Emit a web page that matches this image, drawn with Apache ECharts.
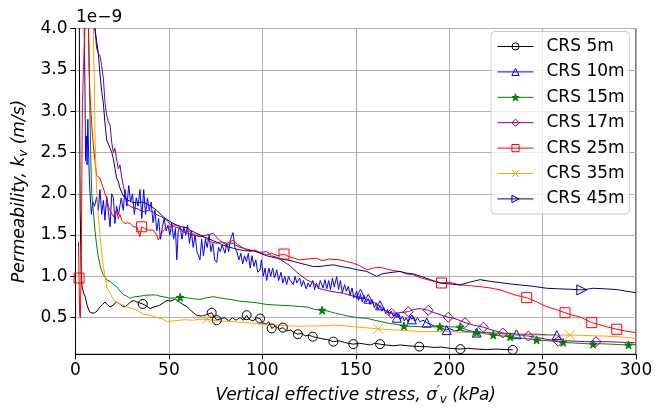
<!DOCTYPE html>
<html><head><meta charset="utf-8">
<script src="https://cdn.jsdelivr.net/npm/echarts@6/dist/echarts.min.js"></script>
<style>html,body{margin:0;padding:0;background:#fff}#c{width:656px;height:408px}</style>
</head><body><div id="c"></div>
<script>
const xTicks = [0, 50, 100, 150, 200, 250, 300];
const yTicks = [0.5, 1.0, 1.5, 2.0, 2.5, 3.0, 3.5, 4.0];
const seriesNames = ['CRS 5m', 'CRS 10m', 'CRS 15m', 'CRS 17m', 'CRS 25m', 'CRS 35m', 'CRS 45m'];

// [vertical effective stress (kPa), permeability (1e-9 m/s)]
const crs5m = [[2.0,4.3],[2.2,3.0],[2.5,1.8],[3.0,1.1],[3.5,0.88],[4.3,0.8],[5.2,0.755],[6.2,0.65],[7.1,0.594],[8.0,0.56],[8.8,0.545],[10,0.555],[11.5,0.58],[13.1,0.63],[14.5,0.66],[15.8,0.69],[17,0.66],[18.5,0.63],[20,0.65],[22,0.69],[23.5,0.67],[25,0.64],[26.5,0.63],[28,0.66],[29.5,0.69],[31,0.71],[33,0.69],[36,0.666],[38,0.64],[40,0.61],[42,0.63],[45,0.65],[47,0.68],[49,0.71],[51,0.70],[53.3,0.727],[55,0.7],[57.5,0.66],[59.9,0.63],[62,0.58],[64.9,0.53],[67,0.52],[69.5,0.53],[72.9,0.56],[74,0.52],[75.6,0.47],[78,0.49],[80,0.5],[82,0.46],[84,0.5],[86,0.47],[88,0.5],[90,0.47],[91.6,0.53],[93,0.48],[95,0.46],[97,0.5],[98.8,0.49],[100,0.44],[102,0.42],[103.5,0.45],[105,0.37],[107,0.4],[109,0.36],[111,0.38],[113,0.34],[115,0.35],[117,0.32],[119,0.30],[121,0.31],[123,0.28],[125,0.29],[127,0.27],[129,0.26],[131,0.25],[133,0.24],[135,0.235],[138,0.21],[141,0.22],[144,0.2],[146,0.19],[148.7,0.18],[152,0.19],[155,0.18],[158,0.17],[160,0.19],[163,0.18],[166,0.17],[170,0.16],[174,0.17],[178,0.16],[184,0.15],[188,0.15],[192,0.14],[196,0.145],[200,0.13],[206,0.12],[210,0.13],[215,0.12],[220,0.115],[225,0.12],[230,0.115],[234,0.11]];
const crs10m = [[4.5,4.3],[5.0,3.4],[5.4,2.4],[5.8,2.7],[6.2,2.35],[6.6,2.9],[7.0,2.5],[7.4,2.2],[7.8,2.0],[8.5,1.75],[9.3,1.9],[10.2,1.85],[11.3,1.96],[12.2,1.8],[13.1,2.05],[14.0,1.75],[14.9,1.92],[15.8,1.68],[16.7,1.97],[17.6,1.78],[18.5,1.6],[19.4,2.0],[20.3,1.95],[21.1,1.64],[22.0,1.85],[23,1.75],[24.5,1.95],[25.6,1.8],[26.5,2.05],[27.5,1.85],[28.5,2.1],[29.5,1.9],[30.5,2.0],[31.5,1.75],[32.5,1.95],[33.5,1.85],[34.5,2.05],[35.5,1.7],[36.5,2.05],[37.5,1.75],[38.5,1.95],[39.5,1.8],[40.5,1.9],[41.5,1.65],[42.5,1.8],[43.5,1.55],[44.5,1.7],[45.5,1.45],[46.5,1.6],[47.5,1.7],[48.5,1.55],[49.5,1.62],[50.5,1.5],[51.5,1.65],[52.5,1.45],[53.5,1.58],[54.2,1.2],[55,1.55],[56,1.6],[57,1.45],[58,1.6],[59,1.5],[60,1.62],[61,1.4],[62,1.55],[63,1.35],[64,1.5],[65,1.3],[66.6,1.2],[67.5,1.45],[68.5,1.25],[69.5,1.45],[70.5,1.35],[71.5,1.5],[72.5,1.3],[73.5,1.4],[74.5,1.2],[75.6,1.17],[76.5,1.35],[77.5,1.3],[78.5,1.38],[80,1.28],[81,1.4],[82,1.3],[83,1.45],[84.3,1.53],[85.3,1.35],[86.3,1.3],[87.5,1.2],[88.5,1.28],[89.5,1.15],[90.5,1.25],[91.5,1.18],[92.5,1.28],[93.5,1.1],[94.5,1.25],[95.5,1.12],[96.5,1.2],[97.5,1.05],[98.8,1.08],[99.5,1.2],[100.5,1.0],[101.5,1.1],[102.3,0.95],[103.5,1.1],[104.5,1.0],[105.5,1.1],[106.5,0.98],[107.7,1.08],[108.7,0.95],[110,1.05],[111,0.92],[112,1.0],[113,0.9],[114,1.0],[115,0.95],[116.6,0.9],[117.5,1.0],[118.5,0.92],[120,0.98],[121,0.88],[122,0.95],[123.5,0.85],[124.5,0.92],[125.5,0.87],[127,0.95],[128,0.84],[129,0.92],[130,0.85],[131,0.95],[132.5,0.86],[133.5,0.96],[134.5,0.85],[135.5,0.95],[136.5,0.84],[137.5,0.98],[138.5,0.87],[139.8,1.0],[140.8,0.84],[141.8,0.95],[142.8,0.8],[144,0.9],[145,0.82],[146,0.88],[147,0.77],[148,0.86],[149,0.74],[150.5,0.82],[151.5,0.71],[152.5,0.79],[153.5,0.69],[154.5,0.77],[155.5,0.69],[156.7,0.73],[157.7,0.66],[158.7,0.72],[160,0.62],[161,0.68],[162,0.6],[163,0.65],[164,0.58],[165,0.62],[166,0.55],[167,0.6],[168,0.53],[169,0.58],[170,0.52],[171,0.55],[172,0.5],[173,0.55],[174,0.48],[175,0.52],[176,0.46],[177,0.5],[178,0.45],[179,0.52],[180,0.48],[181,0.51],[182,0.46],[183,0.5],[184.4,0.45],[186,0.47],[188,0.44],[190,0.42],[192,0.4],[194,0.39],[196,0.37],[198.7,0.35],[200,0.37],[203,0.34],[206,0.35],[210,0.33],[214.7,0.32],[220,0.32],[226,0.31],[232,0.31],[236,0.3],[242,0.3],[248,0.3],[253,0.29],[257.6,0.29]];
const crs15m = [[6.8,4.3],[7.3,3.6],[7.8,2.9],[8.2,2.4],[8.7,2.0],[9.5,1.8],[10.4,1.56],[11.3,1.38],[12.2,1.24],[13.5,1.1],[14.9,1.02],[16.7,0.96],[18.5,0.94],[19.4,0.94],[20.5,0.9],[22,0.875],[24,0.82],[25.6,0.78],[27.4,0.76],[29.2,0.735],[31,0.75],[34.5,0.76],[37,0.77],[39.9,0.775],[43.5,0.775],[45.2,0.76],[48,0.75],[50.6,0.735],[53,0.74],[56,0.747],[60,0.74],[63,0.73],[66.6,0.72],[70,0.74],[73.8,0.755],[77,0.74],[80,0.73],[84.5,0.715],[88,0.7],[93,0.69],[97,0.68],[102.3,0.66],[106,0.655],[110,0.65],[115,0.645],[120,0.635],[124,0.63],[128,0.6],[132,0.59],[135,0.58],[139,0.555],[143.3,0.533],[147,0.515],[151,0.5],[155.9,0.493],[160,0.47],[164,0.45],[168,0.43],[172,0.42],[175.8,0.40],[180,0.395],[184.4,0.39],[190,0.39],[195,0.39],[200,0.39],[205.8,0.385],[210,0.35],[214.7,0.32],[218.3,0.31],[223.6,0.29],[228,0.28],[232.6,0.27],[238,0.255],[242,0.245],[246.8,0.23],[250,0.225],[254,0.22],[258,0.21],[261,0.2],[266,0.195],[270,0.19],[277,0.18],[281,0.185],[286,0.18],[291,0.175],[296,0.17],[300,0.175]];
const crs17m = [[10.0,4.3],[10.4,4.0],[11.3,3.76],[12.2,3.7],[13.1,3.67],[14.0,3.55],[14.9,3.4],[15.8,3.1],[16.7,2.95],[17.6,2.87],[18.5,2.83],[19.4,2.62],[20.3,2.5],[21.1,2.55],[22,2.42],[22.9,2.3],[23.8,2.35],[24.7,2.2],[25.6,2.1],[26.5,2.0],[27.4,1.88],[29.2,1.85],[31,1.83],[33,1.82],[34.5,1.80],[37,1.78],[39,1.8],[41.6,1.78],[44,1.74],[46,1.72],[48.8,1.68],[51,1.62],[53,1.6],[55.5,1.58],[57.7,1.54],[60,1.52],[63,1.5],[66.6,1.48],[70,1.5],[73.8,1.52],[76,1.46],[78,1.42],[80.9,1.38],[83,1.4],[84.5,1.40],[87,1.36],[90,1.34],[93.4,1.32],[96,1.31],[98.8,1.29],[102.3,1.30],[105,1.25],[107.7,1.23],[110,1.2],[112,1.17],[114.8,1.13],[117,1.08],[120,1.02],[123.7,0.96],[127.3,0.92],[130.9,0.85],[134.5,0.83],[139,0.81],[143.3,0.796],[148.7,0.76],[152.3,0.75],[156,0.72],[161.2,0.67],[164,0.62],[166.6,0.575],[169.2,0.553],[173,0.56],[178.1,0.573],[181,0.6],[184.4,0.61],[188.8,0.59],[192,0.56],[196,0.53],[199.5,0.505],[203,0.49],[208.5,0.44],[213,0.41],[218.3,0.385],[223,0.35],[228.7,0.315],[233,0.3],[237,0.29],[242.4,0.278],[247,0.26],[252,0.24],[258.4,0.215],[263,0.22],[268,0.215],[273,0.21],[278.6,0.21],[284,0.21],[290,0.205],[295,0.2],[299.5,0.197]];
const crs25m = [[1.6,1.42],[1.9,0.98],[2.2,0.55],[2.6,0.5],[3.1,1.2],[3.4,2.2],[3.7,3.1],[4.4,3.6],[5.2,4.1],[6.3,4.4],[6.9,4.0],[7.3,3.5],[7.8,3.17],[8.7,2.83],[9.5,2.6],[10.4,2.4],[11.3,2.22],[12.2,2.2],[13.1,2.19],[14,2.12],[14.9,2.07],[15.8,2.0],[16.7,1.95],[17.6,1.85],[18.5,1.8],[19.4,1.78],[20.3,1.72],[21.1,1.70],[22,1.80],[22.9,1.70],[23.8,1.75],[24.7,1.68],[26.5,1.64],[28,1.65],[29.2,1.64],[31,1.6],[32.8,1.6],[34.5,1.48],[35.4,1.60],[37,1.58],[39,1.56],[41.6,1.56],[43.5,1.50],[44.3,1.44],[46,1.52],[48,1.58],[50.6,1.60],[52,1.62],[54.2,1.62],[56,1.58],[58,1.55],[61.3,1.54],[64,1.5],[66.6,1.50],[68.4,1.48],[72,1.42],[75.6,1.40],[78,1.42],[81,1.40],[84.5,1.44],[87,1.38],[90,1.34],[93.4,1.30],[96,1.32],[99,1.28],[102.3,1.26],[105,1.28],[108,1.25],[111.6,1.27],[114,1.24],[117,1.22],[120,1.20],[124,1.21],[129,1.22],[132,1.19],[136,1.21],[141.6,1.20],[145,1.18],[148.7,1.16],[152,1.13],[155.9,1.08],[159.4,1.10],[163,1.11],[166.6,1.09],[170,1.07],[173.7,1.06],[177,1.03],[180.8,1.02],[185,0.98],[190,0.95],[195.9,0.92],[200,0.93],[205,0.9],[210,0.89],[216.5,0.876],[222,0.86],[227.2,0.836],[232,0.8],[236,0.77],[241.5,0.742],[246,0.7],[252.2,0.633],[257,0.6],[262,0.56],[266,0.53],[270,0.51],[276.3,0.44],[280,0.42],[284.3,0.39],[289.7,0.36],[294,0.34],[300,0.32]];
const crs35m = [[9.5,4.3],[9.8,3.6],[10.1,3.42],[10.4,2.75],[10.8,2.4],[11.3,2.05],[12.2,1.75],[13.1,1.5],[14.0,1.3],[14.9,1.12],[16.0,0.98],[16.7,0.87],[18.5,0.8],[19.4,0.755],[20.2,0.72],[22,0.69],[24.5,0.66],[27.4,0.633],[30,0.61],[32.8,0.593],[36.3,0.54],[39.9,0.53],[44,0.5],[47,0.48],[48.8,0.455],[52,0.46],[56,0.47],[59,0.475],[63,0.47],[66,0.48],[70.3,0.48],[74,0.47],[78,0.46],[84.5,0.452],[90,0.44],[96,0.43],[102.3,0.412],[108,0.41],[114,0.40],[120,0.395],[126,0.40],[132,0.40],[138,0.41],[143,0.405],[148.7,0.39],[155,0.38],[162,0.365],[168,0.355],[173.7,0.35],[180,0.34],[184.4,0.33],[190,0.335],[196,0.33],[202,0.33],[210,0.32],[220,0.31],[230,0.3],[238,0.29],[246,0.29],[255,0.285],[264.6,0.29],[272,0.285],[282.5,0.278],[290,0.27],[296,0.26],[300,0.25]];
const crs45m = [[10.0,4.3],[10.4,4.0],[11.3,3.85],[12.2,3.7],[13.1,3.45],[14.0,3.24],[14.9,3.1],[15.8,2.85],[16.7,2.65],[17.6,2.6],[18.5,2.55],[19.4,2.5],[20.2,2.43],[21.1,2.31],[22,2.19],[22.9,2.15],[23.8,2.07],[25.6,1.97],[27.4,1.93],[30,1.9],[32.8,1.89],[35.5,1.9],[38.1,1.88],[41,1.84],[43.5,1.80],[46,1.74],[48.8,1.69],[51.5,1.65],[54.2,1.62],[57,1.6],[59.5,1.59],[61.3,1.56],[64,1.53],[66.6,1.50],[68.4,1.48],[71,1.46],[73.8,1.43],[77,1.40],[80,1.37],[84.5,1.34],[88,1.32],[91,1.31],[95.2,1.31],[99,1.28],[102.3,1.25],[106,1.23],[110,1.21],[113,1.20],[117,1.18],[120,1.16],[123.7,1.14],[127,1.12],[130.9,1.12],[134,1.13],[138,1.14],[142,1.12],[147,1.10],[151,1.08],[155.9,1.06],[159.4,1.02],[161.2,1.0],[164,1.03],[166.6,1.04],[170,1.05],[173.7,1.06],[177,1.04],[180.8,1.03],[185,1.0],[190,0.96],[195,0.92],[200,0.91],[205.8,0.896],[211,0.93],[216.5,0.96],[222,0.94],[227.2,0.925],[232,0.91],[237.9,0.896],[245,0.88],[252.2,0.856],[258,0.85],[264,0.845],[271,0.836],[277.2,0.856],[283,0.85],[290,0.84],[295,0.82],[300,0.803]];

// stress values at which a marker is drawn
const marks5m = [36, 72.9, 75.6, 91.6, 98.8, 105, 111, 119, 127, 138, 148.7, 163, 184, 206, 234];
const marks10m = [152.5, 156.7, 163, 172, 180, 188, 198.7, 214.7, 236, 257.6];
const marks15m = [56, 132, 175.8, 195, 205.8, 214.7, 223.6, 232.6, 246.8, 261, 277, 296];
const marks17m = [169.2, 178.1, 188.8, 199.5, 208.5, 218.3, 228.7, 242.4, 258.4, 278.6];
const marks25m = [1.9, 35.4, 111.6, 195.9, 241.5, 262, 276.3, 289.7];
const marks35m = [70.3, 162, 264.6];
const marks45m = [271];

const allData = [crs5m, crs10m, crs15m, crs17m, crs25m, crs35m, crs45m];
const allMarks = [marks5m, marks10m, marks15m, marks17m, marks25m, marks35m, marks45m];
const colors = ['#000000', '#0000ff', '#008000', '#800080', '#ff0000', '#ffa500', '#000080'];
const STAR = 'path://M50,0 L61.8,35.1 L98.1,35.1 L68.8,56.7 L79.4,90.9 L50,69.5 L20.6,90.9 L31.2,56.7 L1.9,35.1 L38.2,35.1 Z';
const XMARK = 'path://M0,0 L10,10 M10,0 L0,10';
const symbols = ['circle', 'triangle', STAR, 'diamond', 'rect', XMARK, 'triangle'];
const symSizes = [9, 9, 8, 10, 10, 10, 10];
const symRot = [0, 0, 0, 0, 0, 0, -90];
const fills = ['rgba(0,0,0,0)', 'rgba(0,0,0,0)', '#008000', 'rgba(0,0,0,0)', 'rgba(0,0,0,0)', 'rgba(0,0,0,0)', 'rgba(0,0,0,0)'];

function build(pts, marks) {
  const idx = new Set(marks.map(m => {
    let best = 0, bd = Infinity;
    pts.forEach((p, i) => { const d = Math.abs(p[0] - m); if (d < bd) { bd = d; best = i; } });
    return best;
  }));
  return pts.map((p, i) => idx.has(i) ? { value: p } : { value: p, symbol: 'none' });
}

const FONT = 'DejaVu Sans';
const series = seriesNames.map((name, k) => ({
  name, type: 'line', data: build(allData[k], allMarks[k]),
  symbol: symbols[k], symbolSize: symSizes[k], symbolRotate: symRot[k],
  showSymbol: true, showAllSymbol: true,
  lineStyle: { color: colors[k], width: 1 },
  itemStyle: { color: fills[k], borderColor: colors[k], borderWidth: 1 },
  emphasis: { disabled: true }, animation: false, clip: true
}));

const legendData = seriesNames.map((name, k) => ({
  name,
  itemStyle: { color: fills[k], borderColor: colors[k], borderWidth: 1 },
  lineStyle: { color: colors[k], width: 1 }
}));

const chart = echarts.init(document.getElementById('c'), null, { renderer: 'canvas' });
chart.setOption({
  backgroundColor: '#ffffff',
  animation: false,
  grid: { left: 75.5, right: 20, top: 28.5, bottom: 53.7, show: true, borderColor: '#000', borderWidth: 1,
          containLabel: false, outerBoundsMode: 'none' },
  xAxis: {
    type: 'value', min: xTicks[0], max: xTicks[xTicks.length - 1], interval: 50,
    name: '{a|Vertical effective stress, σ}{p|′}{b|v}{a| (kPa)}',
    nameLocation: 'middle', nameGap: 31,
    nameTextStyle: { fontSize: 17, fontStyle: 'italic', fontFamily: FONT, color: '#000',
      rich: { a: { fontSize: 17, fontStyle: 'italic', fontFamily: FONT, color: '#000' },
              p: { fontSize: 12, fontStyle: 'italic', fontFamily: FONT, color: '#000', padding: [0, 0, 9, 0] },
              b: { fontSize: 12, fontStyle: 'italic', fontFamily: FONT, color: '#000', padding: [8, 0, 0, 0] } } },
    axisLine: { show: true, onZero: false, lineStyle: { color: '#000', width: 1 } },
    axisTick: { show: true, length: 5, lineStyle: { color: '#000' } },
    axisLabel: { fontSize: 17, fontFamily: FONT, color: '#000', margin: 8 },
    splitLine: { show: true, lineStyle: { color: '#b0b0b0', width: 1 } }
  },
  yAxis: {
    type: 'value', min: 0.057, max: 4.0,
    name: '{a|Permeability, k}{b|v}{a| (m/s)}',
    nameLocation: 'middle', nameGap: 43, nameRotate: 90,
    nameTextStyle: { fontSize: 17, fontStyle: 'italic', fontFamily: FONT, color: '#000',
      rich: { a: { fontSize: 17, fontStyle: 'italic', fontFamily: FONT, color: '#000' },
              b: { fontSize: 12, fontFamily: FONT, color: '#000', padding: [8, 0, 0, 0] } } },
    axisLine: { show: true, onZero: false, lineStyle: { color: '#000', width: 1 } },
    axisTick: { show: true, length: 5, customValues: yTicks, lineStyle: { color: '#000' } },
    axisLabel: { customValues: yTicks, fontSize: 17, fontFamily: FONT, color: '#000', margin: 8,
      formatter: v => v.toFixed(1) },
    splitLine: { show: true, lineStyle: { color: '#b0b0b0', width: 1 } }
  },
  legend: {
    data: legendData, orient: 'vertical', left: 491, top: 31.5,
    itemWidth: 36, itemHeight: 9, itemGap: 7.4,
    padding: [6, 5, 6, 6],
    backgroundColor: 'rgba(255,255,255,0.8)', borderColor: '#cccccc', borderWidth: 1, borderRadius: 4,
    textStyle: { fontSize: 17, fontFamily: FONT, color: '#000', lineHeight: 18, padding: [0, 0, 0, 8] }
  },
  graphic: [{ type: 'text', left: 76, top: 9, style: { text: '1e−9', font: '17px "DejaVu Sans"', fill: '#000' } }],
  series
});
</script></body></html>
